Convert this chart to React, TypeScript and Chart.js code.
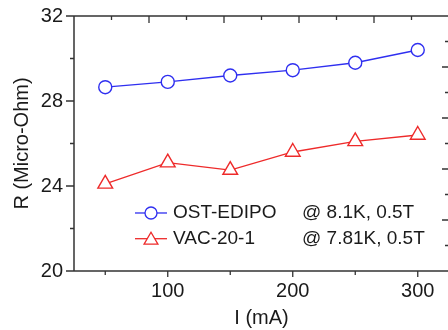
import React, { useEffect, useRef } from 'react';
import { Chart, registerables } from 'chart.js';

Chart.register(...registerables);

// ---- data ----
const currents = [50, 100, 150, 200, 250, 300];
const ostEdipo = [28.65, 28.9, 29.2, 29.45, 29.8, 30.4];
const vac201 = [24.1, 25.1, 24.75, 25.6, 26.1, 26.4];

const xTicks = [50, 100, 150, 200, 250, 300];
const xLabeled = [100, 200, 300];
const yTicks = [20, 22, 24, 26, 28, 30, 32];
const yLabeled = [20, 24, 28, 32];

const seriesNames = ['OST-EDIPO', 'VAC-20-1'];
const seriesConds = ['@ 8.1K, 0.5T', '@ 7.81K, 0.5T'];

const FONT = "'Liberation Sans', Arial, Helvetica, sans-serif";
const TEXT = '#1a1a1a';
const AXIS = '#333333';
const BLUE = '#2f2ff0';
const RED = '#ee2a2a';

function drawCircle(ctx: CanvasRenderingContext2D, x: number, y: number, r: number, color: string) {
  ctx.beginPath();
  ctx.arc(x, y, r, 0, Math.PI * 2);
  ctx.fillStyle = '#ffffff';
  ctx.fill();
  ctx.strokeStyle = color;
  ctx.stroke();
}

function drawTriangle(ctx: CanvasRenderingContext2D, x: number, y: number, r: number, color: string) {
  ctx.beginPath();
  let rad = 0;
  ctx.moveTo(x + Math.sin(rad) * r, y - Math.cos(rad) * r);
  rad += (2 * Math.PI) / 3;
  ctx.lineTo(x + Math.sin(rad) * r, y - Math.cos(rad) * r);
  rad += (2 * Math.PI) / 3;
  ctx.lineTo(x + Math.sin(rad) * r, y - Math.cos(rad) * r);
  ctx.closePath();
  ctx.fillStyle = '#ffffff';
  ctx.fill();
  ctx.strokeStyle = color;
  ctx.stroke();
}

const framePlugin = {
  id: 'frameTicks',
  afterDatasetsDraw(chart: any) {
    const { ctx, chartArea: a, scales } = chart;
    ctx.save();
    ctx.strokeStyle = AXIS;
    ctx.lineWidth = 1.5;
    ctx.beginPath();
    ctx.moveTo(a.left, a.top);
    ctx.lineTo(a.right, a.top);
    ctx.moveTo(a.left, a.top);
    ctx.lineTo(a.left, a.bottom);
    ctx.moveTo(a.left, a.bottom);
    ctx.lineTo(a.right, a.bottom);
    ctx.moveTo(a.right, a.top);
    ctx.lineTo(a.right, a.bottom);
    ctx.stroke();

    ctx.lineWidth = 1.3;
    ctx.beginPath();
    // left (outward)
    for (const v of yTicks) {
      const y = scales.y.getPixelForValue(v);
      const len = yLabeled.includes(v) ? 8 : 4;
      ctx.moveTo(a.left - len, y);
      ctx.lineTo(a.left, y);
    }
    // bottom (outward)
    for (const v of xTicks) {
      const x = scales.x.getPixelForValue(v);
      const len = xLabeled.includes(v) ? 6 : 4;
      ctx.moveTo(x, a.bottom);
      ctx.lineTo(x, a.bottom + len);
    }
    // top (inward)
    for (let k = 1; k < 10; k++) {
      const x = scales.x2.getPixelForValue(k);
      const len = k % 2 === 0 ? 7 : 4;
      ctx.moveTo(x, a.top);
      ctx.lineTo(x, a.top + len);
    }
    // right (inward)
    for (let k = 1; k < 10; k++) {
      const y = scales.y2.getPixelForValue(k);
      const len = k % 2 === 0 ? 7 : 4;
      ctx.moveTo(a.right - len, y);
      ctx.lineTo(a.right, y);
    }
    ctx.stroke();
    ctx.restore();
  },
  afterDraw(chart: any) {
    const { ctx, scales } = chart;
    const rows = [
      { y: scales.y.getPixelForValue(22.73), color: BLUE, shape: 'circle' },
      { y: scales.y.getPixelForValue(21.52), color: RED, shape: 'triangle' },
    ];
    ctx.save();
    rows.forEach((row, i) => {
      ctx.lineWidth = 1.3;
      ctx.strokeStyle = row.color;
      ctx.beginPath();
      ctx.moveTo(135, row.y);
      ctx.lineTo(167, row.y);
      ctx.stroke();
      if (row.shape === 'circle') drawCircle(ctx, 151, row.y, 6, row.color);
      else drawTriangle(ctx, 151, row.y + 1.5, 8, row.color);
      ctx.fillStyle = TEXT;
      ctx.font = `19px ${FONT}`;
      ctx.textBaseline = 'middle';
      ctx.textAlign = 'left';
      ctx.fillText(seriesNames[i], 173, row.y);
      ctx.fillText(seriesConds[i], 302, row.y);
    });
    ctx.restore();
  },
};

export default function App() {
  const ref = useRef<HTMLCanvasElement | null>(null);

  useEffect(() => {
    if (!ref.current) return;
    const chart = new Chart(ref.current, {
      type: 'line',
      data: {
        datasets: [
          {
            label: seriesNames[0],
            data: currents.map((x, i) => ({ x, y: ostEdipo[i] })),
            xAxisID: 'x',
            yAxisID: 'y',
            borderColor: BLUE,
            borderWidth: 1.3,
            pointStyle: 'circle',
            pointRadius: 6.5,
            pointBorderWidth: 1.4,
            pointBackgroundColor: '#ffffff',
            pointBorderColor: BLUE,
            tension: 0,
          },
          {
            label: seriesNames[1],
            data: currents.map((x, i) => ({ x, y: vac201[i] })),
            xAxisID: 'x',
            yAxisID: 'y',
            borderColor: RED,
            borderWidth: 1.3,
            pointStyle: 'triangle',
            pointRadius: 8.5,
            pointBorderWidth: 1.4,
            pointBackgroundColor: '#ffffff',
            pointBorderColor: RED,
            tension: 0,
          },
        ],
      },
      options: {
        animation: false,
        responsive: false,
        devicePixelRatio: 1,
        layout: { padding: 0, autoPadding: false },
        plugins: { legend: { display: false }, tooltip: { enabled: false } },
        scales: {
          x: {
            type: 'linear',
            position: 'bottom',
            min: 25,
            max: 325,
            afterBuildTicks: (s: any) => {
              s.ticks = xTicks.map((v) => ({ value: v }));
            },
            afterFit: (s: any) => {
              s.height = 59;
              s.paddingLeft = 0;
              s.paddingRight = 0;
            },
            grid: { display: false, drawTicks: true, tickLength: 6 },
            border: { display: false },
            ticks: {
              color: TEXT,
              font: { family: FONT, size: 20 },
              padding: 2,
              maxRotation: 0,
              autoSkip: false,
              callback: (v: any) => (xLabeled.includes(Number(v)) ? String(v) : ''),
            },
            title: {
              display: true,
              text: 'I (mA)',
              color: TEXT,
              font: { family: FONT, size: 20 },
              padding: { top: 0, bottom: 0 },
            },
          },
          x2: {
            type: 'linear',
            position: 'top',
            min: 0,
            max: 10,
            afterFit: (s: any) => {
              s.height = 16;
              s.paddingLeft = 0;
              s.paddingRight = 0;
            },
            grid: { display: false, drawTicks: false },
            border: { display: false },
            ticks: { display: false },
          },
          y: {
            type: 'linear',
            position: 'left',
            min: 20,
            max: 32,
            afterBuildTicks: (s: any) => {
              s.ticks = yTicks.map((v) => ({ value: v }));
            },
            afterFit: (s: any) => {
              s.width = 74;
              s.paddingTop = 0;
              s.paddingBottom = 0;
            },
            grid: { display: false, drawTicks: true, tickLength: 8 },
            border: { display: false },
            ticks: {
              color: TEXT,
              font: { family: FONT, size: 20 },
              padding: 3,
              autoSkip: false,
              callback: (v: any) => (yLabeled.includes(Number(v)) ? String(v) : ''),
            },
            title: {
              display: true,
              text: 'R (Micro-Ohm)',
              color: TEXT,
              font: { family: FONT, size: 20 },
              padding: { top: 10, bottom: 0 },
            },
          },
          y2: {
            type: 'linear',
            position: 'right',
            min: 0,
            max: 10,
            afterFit: (s: any) => {
              s.width = 3;
              s.paddingTop = 0;
              s.paddingBottom = 0;
            },
            grid: { display: false, drawTicks: false },
            border: { display: false },
            ticks: { display: false },
          },
        },
      } as any,
      plugins: [framePlugin],
    });
    return () => chart.destroy();
  }, []);

  return (
    <div
      style={{
        position: 'fixed',
        left: 0,
        top: 0,
        width: 448,
        height: 330,
        overflow: 'hidden',
        background: '#ffffff',
      }}
    >
      <canvas ref={ref} width={452} height={330} style={{ display: 'block', width: 452, height: 330 }} />
    </div>
  );
}
